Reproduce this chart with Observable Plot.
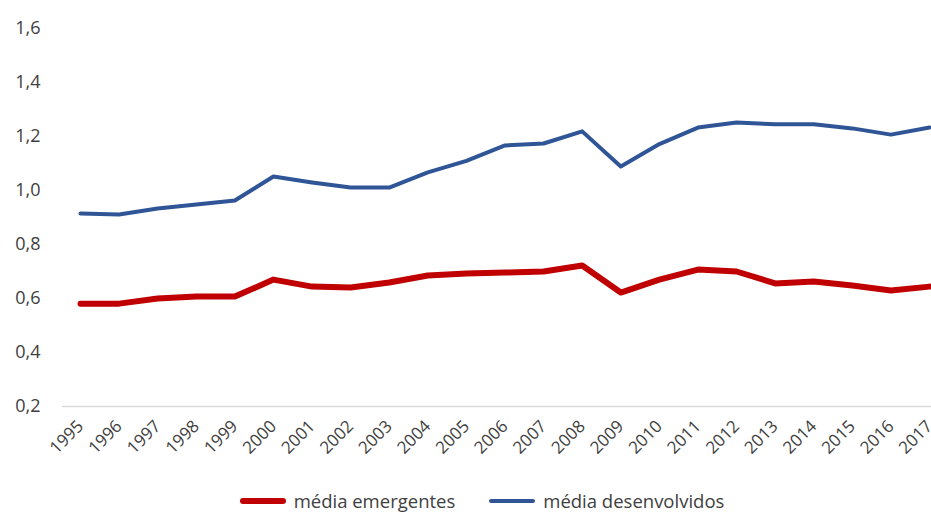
<!DOCTYPE html>
<html><head><meta charset="utf-8">
<script src="https://cdn.jsdelivr.net/npm/d3@7"></script>
<script src="https://cdn.jsdelivr.net/npm/@observablehq/plot@0.6"></script>
<style>
html,body{margin:0;background:#fff;font-family:"Open Sans",sans-serif;overflow:hidden;}
#chart svg{display:block;}
#legend{display:flex;justify-content:center;align-items:center;height:24px;margin-top:7px;padding-left:33px;font-size:18.5px;line-height:24px;color:#404040;}
.item{display:flex;align-items:center;margin:0 17px;}
.sw{display:inline-block;width:46px;border-radius:3px;margin-right:8px;}
</style>
</head><body>
<div id="chart"></div>
<div id="legend"></div>
<script>
const years = [1995,1996,1997,1998,1999,2000,2001,2002,2003,2004,2005,2006,2007,2008,2009,2010,2011,2012,2013,2014,2015,2016,2017];
const emergentes = [0.581,0.581,0.600,0.607,0.607,0.670,0.644,0.641,0.659,0.685,0.693,0.696,0.700,0.722,0.622,0.670,0.707,0.700,0.656,0.663,0.648,0.630,0.644];
const desenvolvidos = [0.915,0.911,0.933,0.948,0.963,1.052,1.030,1.011,1.011,1.067,1.110,1.167,1.174,1.219,1.089,1.172,1.233,1.252,1.245,1.245,1.230,1.207,1.233];
const seriesNames = ["média emergentes","média desenvolvidos"];
const seriesColors = ["#C00000","#2F5597"];
const seriesWidths = [6,4];
const yTicks = [0.2,0.4,0.6,0.8,1.0,1.2,1.4,1.6];

const rows = years.flatMap((yr,i)=>[
  {year:yr, value:emergentes[i], s:seriesNames[0]},
  {year:yr, value:desenvolvidos[i], s:seriesNames[1]}
]);

const plot = Plot.plot({
  width:931, height:482,
  marginLeft:62, marginRight:0, marginTop:28, marginBottom:76,
  style:{fontFamily:"Open Sans, sans-serif", color:"#404040", background:"#fff"},
  x:{type:"point", domain:years, range:[80,929], padding:0, round:false},
  y:{domain:[0.2,1.6]},
  marks:[
    Plot.ruleY([0.2],{stroke:"#d9d9d9", strokeWidth:1.5}),
    Plot.axisY({ticks:yTicks, tickFormat:d=>d.toFixed(1).replace(".",","), tickSize:0, tickPadding:22, fontSize:18, label:null}),
    Plot.axisX({tickRotate:-45, tickSize:0, tickPadding:17, fontSize:17, tickFormat:d=>String(d), label:null}),
    ...seriesNames.map((nm,k)=>Plot.lineY(rows.filter(r=>r.s===nm),{x:"year", y:"value", stroke:seriesColors[k], strokeWidth:seriesWidths[k], strokeLinejoin:"round", strokeLinecap:"round"}))
  ]
});
document.getElementById("chart").appendChild(plot);

const lg = document.getElementById("legend");
seriesNames.forEach((nm,k)=>{
  const it = document.createElement("div"); it.className="item";
  const sw = document.createElement("span"); sw.className="sw";
  sw.style.height = seriesWidths[k]+"px"; sw.style.background = seriesColors[k];
  const tx = document.createElement("span"); tx.textContent = nm;
  it.appendChild(sw); it.appendChild(tx); lg.appendChild(it);
});
</script>
</body></html>
